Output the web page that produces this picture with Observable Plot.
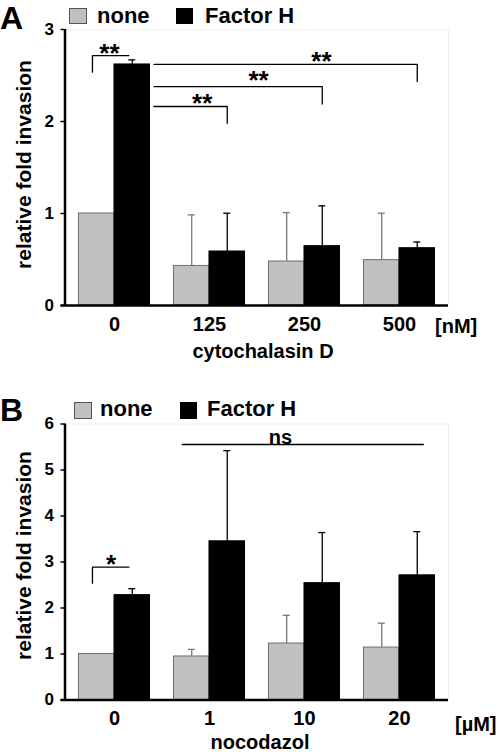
<!DOCTYPE html>
<html>
<head>
<meta charset="utf-8">
<script src="https://cdn.jsdelivr.net/npm/d3@7"></script>
<script src="https://cdn.jsdelivr.net/npm/@observablehq/plot@0.6"></script>
<style>
  html, body { margin: 0; padding: 0; background: #fff; }
  #wrap { position: relative; width: 500px; height: 752px; overflow: hidden; }
  .t { position: absolute; font-family: "Liberation Sans", Arial, sans-serif; font-weight: bold; white-space: nowrap; line-height: 1; color: #000; }
  .sw { position: absolute; box-sizing: border-box; }
  .plot { position: absolute; left: 0; }
</style>
</head>
<body>
<div id="wrap"></div>
<script>
// ---------- data ----------
const seriesNames = ["none", "Factor H"];

// Panel A: cytochalasin D
const catsA = ["0", "125", "250", "500"];
const unitA = "[nM]";
const xTitleA = "cytochalasin D";
const noneA = [1.0, 0.43, 0.478, 0.493];
const noneErrA = [0, 0.555, 0.532, 0.51];
const fhA = [2.62, 0.587, 0.645, 0.623];
const fhErrA = [0.05, 0.416, 0.438, 0.067];
const yTicksA = [0, 1, 2, 3];
// significance comparisons (a = reference group, b = compared group)
const sigA = [
  {a: 0, b: 0, within: true, y: 2.717, drop: 2.536, label: "**", lx: -0.053, ly: 2.80},
  {a: 0, b: 3, y: 2.62, drop: 2.435, label: "**", lx: 2.179, ly: 2.715},
  {a: 0, b: 2, y: 2.38, drop: 2.19, label: "**", lx: 1.516, ly: 2.51},
  {a: 0, b: 1, y: 2.163, drop: 1.98, label: "**", lx: 0.923, ly: 2.26}
];

// Panel B: nocodazol
const catsB = ["0", "1", "10", "20"];
const unitB = "[µM]";
const xTitleB = "nocodazol";
const noneB = [1.0, 0.946, 1.228, 1.14];
const noneErrB = [0, 0.154, 0.612, 0.53];
const fhB = [2.28, 3.45, 2.54, 2.71];
const fhErrB = [0.14, 1.97, 1.10, 0.95];
const yTicksB = [0, 1, 2, 3, 4, 5, 6];
const sigB = [
  {a: 0, b: 0, within: true, y: 2.887, drop: 2.54, label: "*", lx: -0.037, ly: 3.08},
  {a: 1, b: 3, span: true, y: 5.554, label: "ns", lx: 1.747, ly: 5.713}
];

const yTitle = "relative fold invasion";

// ---------- drawing ----------
const FONT = '"Liberation Sans", Arial, sans-serif';
const BW = 0.374;          // bar width in group units
const GRAY = "#c0c0c0";

function panel(cats, none, noneErr, fh, fhErr, yTicks, sig, mTop, mBottom) {
  const rows = [];
  cats.forEach((c, i) => {
    rows.push({i, s: "none", x1: i - BW, x2: i, v: none[i], e: noneErr[i]});
    rows.push({i, s: "fh", x1: i, x2: i + BW, v: fh[i], e: fhErr[i]});
  });
  rows.forEach(r => { r.cx = (r.x1 + r.x2) / 2; r.top = r.v + r.e; });
  const err = rows.filter(r => r.e > 0);
  const yMax = yTicks[yTicks.length - 1];
  const xDom = [-0.521, 3.516];

  // bracket paths
  const segs = [];
  sig.forEach((s, k) => {
    if (s.within) {
      const xl = s.a - BW / 2 - 0.045, xr = s.a + BW / 2 - 0.035;
      segs.push({k, x: xl, y: s.drop}, {k, x: xl, y: s.y}, {k, x: xr, y: s.y});
    } else if (s.span) {
      segs.push({k, x: s.a - BW + 0.087, y: s.y}, {k, x: s.b + BW / 2 + 0.064, y: s.y});
    } else {
      const xl = s.a + BW + 0.042, xr = s.b + BW / 2;
      segs.push({k, x: xl, y: s.y}, {k, x: xr, y: s.y}, {k, x: xr, y: s.drop});
    }
  });

  return Plot.plot({
    width: 500,
    height: 376,
    marginLeft: 64.5,
    marginRight: 52,
    marginTop: mTop,
    marginBottom: mBottom,
    style: {fontFamily: FONT, fontWeight: "bold", fontSize: "16px", background: "transparent", overflow: "visible"},
    x: {domain: xDom, axis: null},
    y: {domain: [0, yMax], axis: null},
    marks: [
      Plot.frame({stroke: "#f0f0f0"}),
      Plot.rect(rows, {x1: "x1", x2: "x2", y1: 0, y2: "v",
        fill: d => d.s === "none" ? GRAY : "#000",
        stroke: d => d.s === "none" ? "#6e6e6e" : "#000", strokeWidth: 1}),
      Plot.ruleX(err, {x: "cx", y1: "v", y2: "top",
        stroke: d => d.s === "none" ? "#7a7a7a" : "#000", strokeWidth: 1.3}),
      Plot.ruleY(err, {y: "top", x1: d => d.cx - 0.037, x2: d => d.cx + 0.037,
        stroke: d => d.s === "none" ? "#7a7a7a" : "#000", strokeWidth: 1.3}),
      Plot.line(segs, {x: "x", y: "y", z: "k", stroke: "#000", strokeWidth: 1.3}),
      Plot.text(sig.filter(s => s.label !== "ns"), {x: "lx", y: "ly", text: "label",
        fontSize: 26, fontWeight: "bold", lineAnchor: "middle", dy: 6}),
      Plot.text(sig.filter(s => s.label === "ns"), {x: "lx", y: "ly", text: "label",
        fontSize: 20, fontWeight: "bold", lineAnchor: "middle"}),
      Plot.axisY({ticks: yTicks, tickFormat: d3.format("d"), tickSize: 4, tickPadding: 7, fontSize: 17, strokeWidth: 1.5, label: null}),
      Plot.axisX({ticks: cats.map((c, i) => i), tickFormat: i => cats[i], tickSize: 0, tickPadding: 11, fontSize: 20, label: null}),
      Plot.ruleX([xDom[0]], {y1: 0, y2: yMax, strokeWidth: 2.5}),
      Plot.ruleY([0], {strokeWidth: 2.5, insetLeft: -4})
    ]
  });
}

const wrap = document.getElementById("wrap");

function addText(txt, left, top, size, extra) {
  const d = document.createElement("div");
  d.className = "t";
  d.textContent = txt;
  d.style.left = left + "px";
  d.style.top = top + "px";
  d.style.fontSize = size + "px";
  if (extra) Object.assign(d.style, extra);
  wrap.appendChild(d);
  return d;
}
function addSwatch(left, top, w, h, fill, border) {
  const d = document.createElement("div");
  d.className = "sw";
  Object.assign(d.style, {left: left + "px", top: top + "px", width: w + "px", height: h + "px", background: fill, border: "1px solid " + border});
  wrap.appendChild(d);
}

// Panel A
const pA = panel(catsA, noneA, noneErrA, fhA, fhErrA, yTicksA, sigA, 29, 71);
pA.classList.add("plot"); pA.style.top = "0px";
wrap.appendChild(pA);

// Panel B
const pB = panel(catsB, noneB, noneErrB, fhB, fhErrB, yTicksB, sigB, 47.5, 52.5);
pB.classList.add("plot"); pB.style.top = "376px";
wrap.appendChild(pB);

// Panel letters
addText("A", 0, 0, 32, {lineHeight: "normal"});
addText("B", 0, 392, 32, {lineHeight: "normal"});

// Legends
addSwatch(69, 8, 18, 16, GRAY, "#555");
addText(seriesNames[0], 97, 4.5, 22);
addSwatch(176, 8, 17, 16, "#000", "#000");
addText(seriesNames[1], 205, 4.5, 22);

addSwatch(74, 402, 18, 17, GRAY, "#555");
addText(seriesNames[0], 100, 398, 22);
addSwatch(180, 402, 17, 17, "#000", "#000");
addText(seriesNames[1], 207, 398, 22);

// Y titles (rotated)
function yTitleAt(cx, cy) {
  addText(yTitle, cx - 150, cy - 10.5, 21, {width: "300px", textAlign: "center", height: "21px", transform: "rotate(-90deg)", transformOrigin: "50% 50%"});
}
yTitleAt(22.5, 164.5);
yTitleAt(22.5, 555);

// X titles and units
addText(xTitleA, 163, 340.5, 20, {width: "200px", textAlign: "center"});
addText(unitA, 435, 315.5, 20);
addText(xTitleB, 160, 732, 20, {width: "200px", textAlign: "center"});
addText(unitB, 455, 714, 20);
</script>
</body>
</html>
